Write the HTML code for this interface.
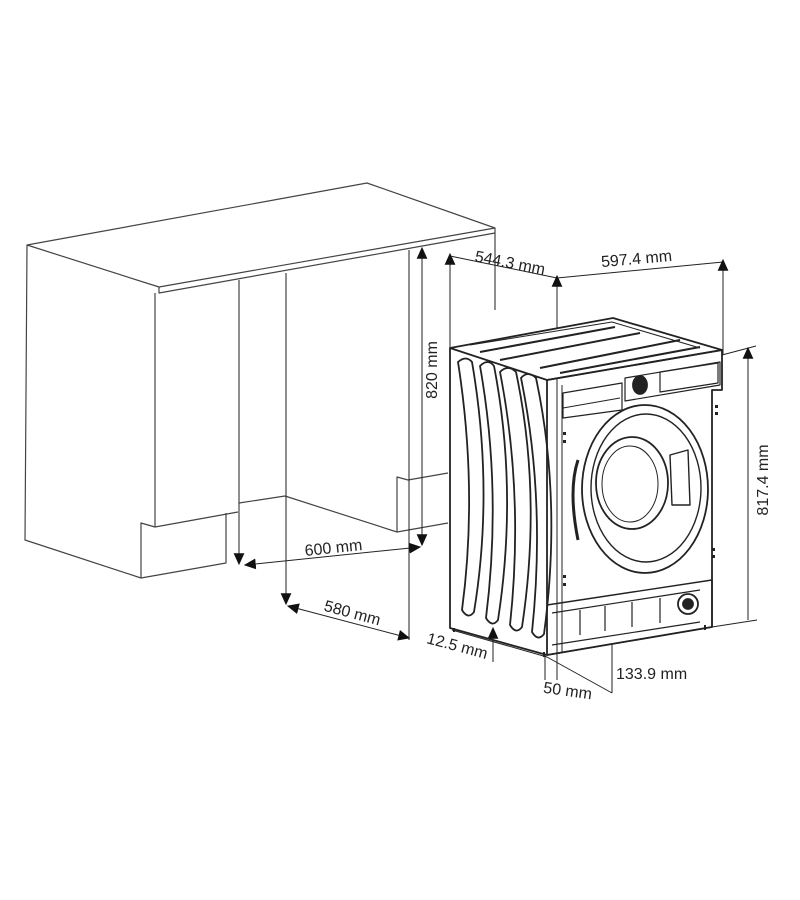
<!DOCTYPE html>
<html><head><style>
html,body{margin:0;padding:0;background:#fff;}
svg{display:block;}
text{font-family:"Liberation Sans",sans-serif;font-size:16px;fill:#222;}
</style></head><body>
<svg width="800" height="900" viewBox="0 0 800 900" xmlns="http://www.w3.org/2000/svg">
<defs>
<marker id="a" viewBox="0 0 10 10" refX="9" refY="5" markerWidth="12" markerHeight="12" markerUnits="userSpaceOnUse" orient="auto-start-reverse"><path d="M0,0.5 L10,5 L0,9.5 z" fill="#111"/></marker>
</defs>
<g fill="none" stroke="#444" stroke-width="1.2" stroke-linejoin="round">
<path d="M27,245 L367,183 L495,228 L159,287 Z" fill="#fff"/>
<path d="M159,287 L159,293 L495,233 L495,228"/>
<path d="M27,245 L25,540 L141,578"/>
<path d="M155,293 L155,527"/>
<path d="M141,578 L141,523 L155,527 L238,512"/>
<path d="M141,578 L226,563 L226,513"/>
<path d="M239,280 L239,503 L285,496 L397,532 L448,523"/>
<path d="M286,273 L286,496"/>
<path d="M409,250 L409,477"/>
<path d="M397,532 L397,477 L408,480 L448,473"/>
<path d="M495,233 L495,310"/>
</g>
<g fill="none" stroke="#222" stroke-width="1">
<line x1="239" y1="503" x2="239" y2="564" marker-end="url(#a)"/>
<line x1="286" y1="496" x2="286" y2="604" marker-end="url(#a)"/>
<line x1="409" y1="477" x2="409" y2="640"/>
<line x1="422" y1="248" x2="422" y2="545" marker-start="url(#a)" marker-end="url(#a)"/>
<line x1="245" y1="565" x2="420" y2="547" marker-start="url(#a)" marker-end="url(#a)"/>
<line x1="288" y1="606" x2="409" y2="638" marker-start="url(#a)" marker-end="url(#a)"/>
<line x1="450" y1="254" x2="450" y2="628" marker-start="url(#a)"/>
<line x1="450" y1="256" x2="557" y2="278"/>
<line x1="557" y1="278" x2="723" y2="262"/>
<line x1="557" y1="276" x2="557" y2="680" marker-start="url(#a)"/>
<line x1="723" y1="260" x2="723" y2="355" marker-start="url(#a)"/>
<line x1="748" y1="348" x2="748" y2="620" marker-start="url(#a)"/>
<line x1="722" y1="355" x2="756" y2="346"/>
<line x1="712" y1="627" x2="757" y2="620"/>
<line x1="493" y1="662" x2="493" y2="628" marker-end="url(#a)"/>
<line x1="452" y1="630" x2="547" y2="657"/>
<line x1="545" y1="655" x2="545" y2="680"/>
<line x1="547" y1="657" x2="612" y2="693"/>
<line x1="612" y1="643" x2="612" y2="693"/>
</g>
<g fill="none" stroke="#222" stroke-width="1.8" stroke-linejoin="round">
<path d="M450,348 L613,318 L722,350 L547,380 Z" fill="#fff"/>
<path d="M470,345 L612,322 L700,348" stroke-width="1"/>
<path d="M480,352 L615,327 M500,360 L640,333 M540,368 L680,340 M560,373 L700,347" stroke-width="2"/>
<path d="M450,348 L450,628 L547,655 L547,380"/>
<path d="M547,380 L722,350 L722,390 L712,390 L712,627 L547,655"/>
<path d="M562,385 L562,652" stroke-width="1"/>
<path d="M563,393 L622,383 L622,410 L563,418 Z" stroke-width="1.2"/>
<path d="M563,408 L620,398" stroke-width="1"/>
<path d="M625,378 L720,362 L720,385 L625,401 Z" stroke-width="1.2"/>
<path d="M660,372 L718,363 L718,383 L660,392 Z" stroke-width="1.2"/>
<ellipse cx="640" cy="385" rx="7" ry="9" fill="#222"/>
<ellipse cx="645" cy="489" rx="63" ry="84"/>
<ellipse cx="646" cy="488" rx="55" ry="74" stroke-width="1.4"/>
<ellipse cx="632" cy="483" rx="36" ry="46"/>
<ellipse cx="630" cy="484" rx="28" ry="38" stroke-width="1"/>
<path d="M670,455 L688,450 L690,505 L672,505 Z" stroke-width="1.4"/>
<path d="M578,460 Q568,490 578,540" stroke-width="3"/>
<path d="M458,362 Q478,490 462,610 Q468,620 474,612 Q494,490 472,362 Q466,355 458,362 Z"/>
<path d="M480,366 Q502,490 486,618 Q492,628 498,620 Q518,490 494,366 Q488,358 480,366 Z"/>
<path d="M500,372 Q524,495 510,625 Q516,635 522,627 Q542,495 516,372 Q508,364 500,372 Z"/>
<path d="M521,378 Q546,500 532,632 Q538,642 544,634 Q562,500 536,378 Q528,370 521,378 Z"/>
<path d="M547,605 L712,580 L712,627 L547,655" stroke-width="1.4"/>
<path d="M552,613 L700,590 M552,645 L700,622" stroke-width="1.2"/>
<path d="M580,610 L580,635 M605,606 L605,631 M632,602 L632,627 M660,598 L660,623" stroke-width="1.2"/>
<circle cx="688" cy="604" r="10"/>
<circle cx="688" cy="604" r="5" fill="#222"/>
<path d="M454,628 L454,632 M544,652 L544,657 M705,625 L705,630" stroke-width="2"/>
</g>
<g fill="#222">
<rect x="715" y="405" width="3" height="3"/><rect x="715" y="412" width="3" height="3"/>
<rect x="563" y="432" width="3" height="3"/><rect x="563" y="440" width="3" height="3"/>
<rect x="712" y="548" width="3" height="3"/><rect x="712" y="555" width="3" height="3"/>
<rect x="563" y="575" width="3" height="3"/><rect x="563" y="583" width="3" height="3"/>
</g>
<text x="0" y="0" text-anchor="middle" transform="translate(437,370) rotate(-90)">820 mm</text>
<text x="0" y="0" text-anchor="middle" transform="translate(334,553) rotate(-6)">600 mm</text>
<text x="0" y="0" text-anchor="middle" transform="translate(351,618) rotate(15)">580 mm</text>
<text x="0" y="0" text-anchor="middle" transform="translate(509,268) rotate(11)">544.3 mm</text>
<text x="0" y="0" text-anchor="middle" transform="translate(637,264) rotate(-5)">597.4 mm</text>
<text x="0" y="0" text-anchor="middle" transform="translate(768,480) rotate(-90)">817.4 mm</text>
<text x="0" y="0" text-anchor="middle" transform="translate(456,651) rotate(15)">12.5 mm</text>
<text x="0" y="0" text-anchor="middle" transform="translate(567,696) rotate(8)">50 mm</text>
<text x="616" y="679">133.9 mm</text>
</svg>
</body></html>
